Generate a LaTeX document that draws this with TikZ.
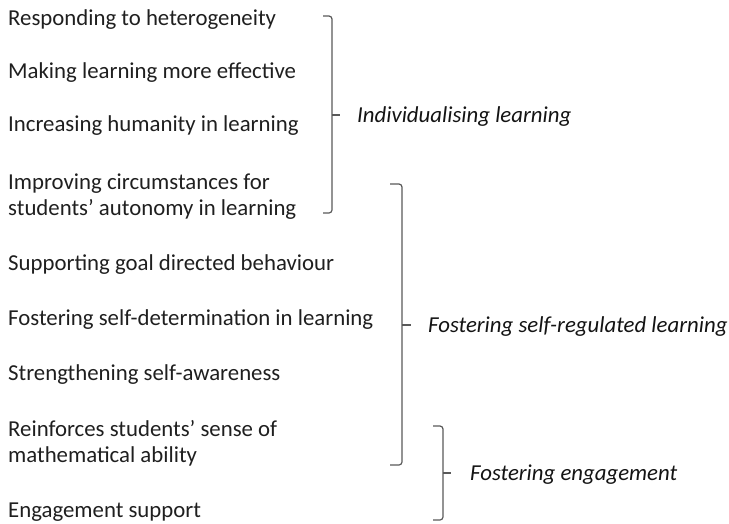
\documentclass[tikz,border=0pt]{standalone}
\usepackage{fontspec}
\setmainfont{Carlito}
\begin{document}
\begin{tikzpicture}[x=1pt,y=-1pt,
  item/.style={anchor=west,inner sep=0pt,align=left,text=black!88,
    font=\fontsize{22.8}{26}\selectfont},
  group/.style={anchor=west,inner sep=0pt,text=black!92,
    font=\fontsize{22.8}{26}\selectfont\itshape},
  bracket/.style={draw=black!65,line width=1.2pt,rounded corners=3pt}]
\useasboundingbox (0,0) rectangle (729,523);
% list of aims
\node[item] (a1) at (8,20)  {Responding to heterogeneity};
\node[item] (a2) at (8,73)  {Making learning more effective};
\node[item] (a3) at (8,126) {Increasing humanity in learning};
\node[item] (a4) at (8,197) {Improving circumstances for\\students’ autonomy in learning};
\node[item] (a5) at (8,265) {Supporting goal directed behaviour};
\node[item] (a6) at (8,320) {Fostering self-determination in learning};
\node[item] (a7) at (8,375) {Strengthening self-awareness};
\node[item] (a8) at (8,443) {Reinforces students’ sense of\\mathematical ability};
\node[item] (a9) at (8,512) {Engagement support};
% brackets grouping the aims
\draw[bracket] (323,16) -- (332,16) -- (332,213) -- (323,213);
\draw[bracket] (332,115) -- (340,115);
\draw[bracket] (390,184) -- (402,184) -- (402,465) -- (390,465);
\draw[bracket] (402,325) -- (411,325);
\draw[bracket] (433,426) -- (443,426) -- (443,520) -- (433,520);
\draw[bracket] (443,473) -- (451,473);
% group labels
\node[group] (g1) at (357,117) {Individualising learning};
\node[group] (g2) at (428,327) {Fostering self-regulated learning};
\node[group] (g3) at (470,475) {Fostering engagement};
\end{tikzpicture}
\end{document}
